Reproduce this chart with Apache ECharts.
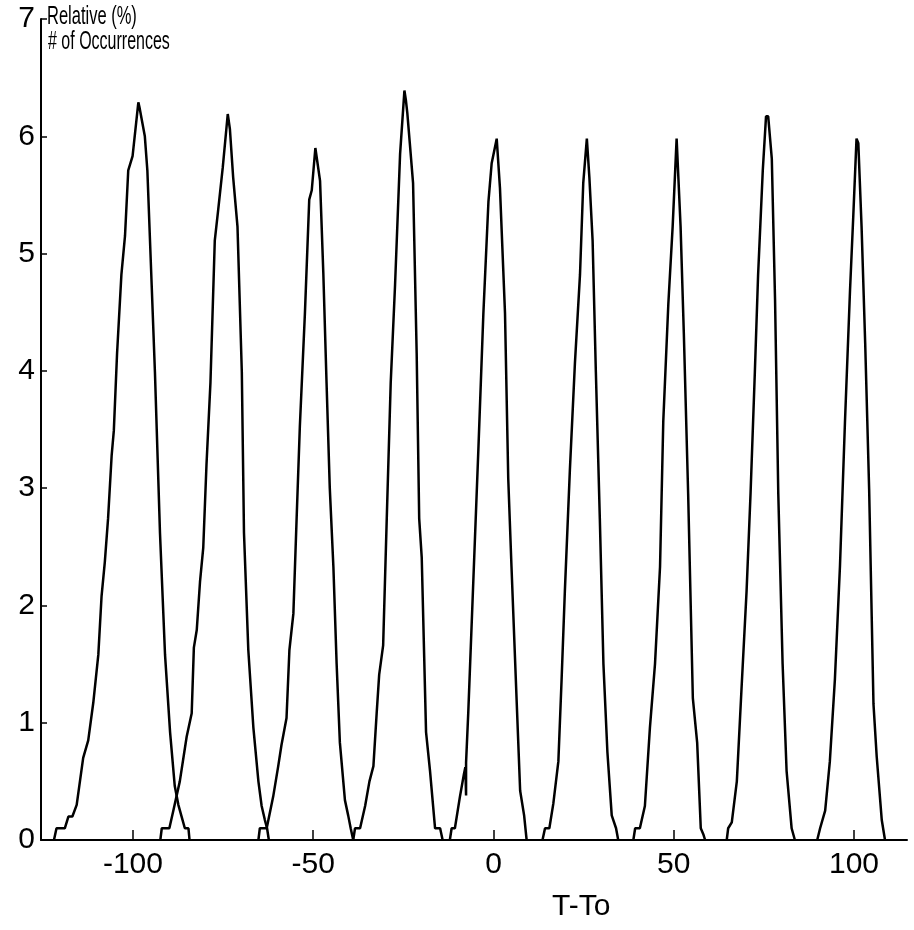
<!DOCTYPE html>
<html>
<head>
<meta charset="utf-8">
<script src="https://cdn.jsdelivr.net/npm/echarts@6/dist/echarts.min.js"></script>
<style>html,body{margin:0;padding:0;background:#fff}#c{width:914px;height:930px}</style>
</head>
<body>
<div id="c"></div>
<script>
var xTicks = [-100, -50, 0, 50, 100];
var yTicks = [0, 1, 2, 3, 4, 5, 6, 7];
var xLabel = 'T-To';
var yTitle1 = 'Relative (%)';
var yTitle2 = '# of Occurrences';

var peak1 = [[-121.9,0],[-121.2,0.1],[-118.9,0.1],[-117.9,0.2],[-116.8,0.2],[-115.6,0.3],[-113.8,0.7],[-112.4,0.85],[-111.0,1.17],[-109.6,1.58],[-108.7,2.08],[-107.8,2.37],[-106.9,2.74],[-105.9,3.28],[-105.3,3.49],[-104.4,4.15],[-103.2,4.82],[-102.2,5.15],[-101.3,5.71],[-100.1,5.83],[-98.5,6.29],[-98.2,6.25],[-96.7,6.0],[-96.0,5.71],[-94.8,4.73],[-93.9,3.99],[-92.5,2.62],[-91.1,1.58],[-89.7,0.92],[-88.4,0.46],[-87.4,0.3],[-86.5,0.2],[-85.6,0.1],[-84.6,0.1],[-84.3,0]];
var peak2 = [[-92.4,0],[-92.0,0.1],[-89.9,0.1],[-88.8,0.25],[-87.0,0.5],[-85.1,0.88],[-83.7,1.08],[-83.1,1.64],[-82.3,1.79],[-81.4,2.2],[-80.5,2.49],[-79.6,3.2],[-78.5,3.9],[-77.3,5.11],[-76.4,5.36],[-75.1,5.73],[-73.7,6.19],[-73.1,6.06],[-72.2,5.65],[-71.0,5.23],[-69.8,3.99],[-69.2,2.62],[-68.0,1.62],[-66.6,0.96],[-65.2,0.5],[-64.3,0.29],[-63.4,0.17],[-62.8,0.1],[-62.3,0]];
var peak3 = [[-65.2,0],[-64.8,0.1],[-62.9,0.1],[-61.1,0.37],[-59.7,0.63],[-58.8,0.81],[-57.4,1.04],[-56.6,1.62],[-55.5,1.93],[-54.6,2.74],[-53.7,3.53],[-52.3,4.49],[-51.1,5.46],[-50.4,5.54],[-49.4,5.9],[-48.1,5.62],[-47.2,4.84],[-46.3,3.9],[-45.4,3.0],[-44.4,2.33],[-43.5,1.5],[-42.6,0.83],[-41.2,0.34],[-40.3,0.21],[-39.6,0.1],[-38.9,0]];
var peak4 = [[-38.9,0],[-38.4,0.1],[-37.0,0.1],[-35.6,0.29],[-34.4,0.5],[-33.3,0.63],[-32.4,1.08],[-31.7,1.41],[-30.6,1.66],[-29.6,2.74],[-28.5,3.9],[-27.3,4.73],[-25.9,5.85],[-24.7,6.39],[-24.3,6.31],[-23.9,6.2],[-23.2,5.94],[-22.3,5.6],[-21.3,4.15],[-20.6,2.74],[-19.9,2.41],[-18.7,0.92],[-17.6,0.59],[-16.2,0.1],[-14.8,0.1],[-14.1,0]];
var peak5 = [[-12.1,0],[-11.6,0.1],[-10.7,0.1],[-9.3,0.37],[-8.2,0.56],[-7.8,0.62],[-7.6,0.38],[-7.6,0.66],[-7.0,1.08],[-5.6,2.2],[-4.2,3.32],[-2.8,4.49],[-1.4,5.44],[-0.5,5.77],[0.9,5.98],[1.8,5.56],[3.2,4.49],[4.1,3.08],[5.0,2.33],[6.4,1.21],[7.4,0.42],[8.5,0.21],[9.2,0]];
var peak6 = [[13.6,0],[14.3,0.1],[15.5,0.1],[16.6,0.31],[18.0,0.67],[18.9,1.37],[19.8,2.12],[21.2,3.16],[22.6,4.07],[24.0,4.82],[24.9,5.6],[25.9,5.98],[26.6,5.65],[27.5,5.11],[28.4,3.99],[29.5,2.74],[30.5,1.5],[31.6,0.75],[32.8,0.21],[34.0,0.1],[34.6,0]];
var peak7 = [[38.8,0],[39.3,0.1],[40.6,0.1],[42.0,0.29],[43.4,0.96],[44.8,1.5],[46.2,2.33],[47.1,3.57],[48.5,4.57],[49.7,5.23],[50.8,5.98],[51.3,5.98],[51.9,5.23],[52.8,4.32],[54.0,2.95],[55.3,1.21],[56.5,0.83],[57.5,0.1],[58.2,0.05],[58.7,0]];
var peak8 = [[64.7,0],[65.1,0.1],[66.1,0.15],[67.5,0.5],[68.8,1.29],[70.2,2.12],[71.3,2.95],[72.5,3.99],[73.4,4.82],[74.7,5.71],[75.6,6.17],[76.2,6.17],[77.2,5.81],[78.1,4.61],[79.0,2.95],[80.2,1.5],[81.3,0.59],[82.7,0.1],[83.6,0]];
var peak9 = [[89.8,0],[90.6,0.1],[92.0,0.25],[93.3,0.67],[94.7,1.37],[96.1,2.33],[97.5,3.57],[98.9,4.69],[99.8,5.32],[100.7,5.98],[101.2,5.94],[102.1,5.23],[103.1,4.24],[104.2,2.99],[105.4,1.16],[106.3,0.71],[107.7,0.17],[108.6,0]];

var peaks = [peak1, peak2, peak3, peak4, peak5, peak6, peak7, peak8, peak9];

var chart = echarts.init(document.getElementById('c'), null, {renderer: 'canvas'});
var font = '"Liberation Sans", Arial, Helvetica, sans-serif';

var option = {
  animation: false,
  backgroundColor: '#ffffff',
  grid: {left: 41, right: 7, top: 19, bottom: 90, containLabel: false},
  xAxis: {
    type: 'value',
    min: -125.5,
    max: 114.7,
    splitLine: {show: false},
    axisLine: {show: true, onZero: false, lineStyle: {color: '#000', width: 2}},
    axisTick: {show: true, inside: true, length: 10, customValues: xTicks, lineStyle: {color: '#000', width: 1.5}},
    axisLabel: {show: true, customValues: xTicks, margin: 10, color: '#000', fontSize: 30, fontFamily: font}
  },
  yAxis: {
    type: 'value',
    min: 0,
    max: 7,
    interval: 1,
    splitLine: {show: false},
    axisLine: {show: true, onZero: false, lineStyle: {color: '#000', width: 2}},
    axisTick: {show: true, inside: true, length: 6, lineStyle: {color: '#000', width: 1.5}},
    axisLabel: {show: true, margin: 6, color: '#000', fontSize: 30, fontFamily: font,
      formatter: function (v) { return yTicks.indexOf(v) >= 0 ? String(v) : ''; }}
  },
  graphic: [
    {type: 'text', left: 47, top: 5, scaleX: 0.66, style: {text: yTitle1, fill: '#000', font: '25px ' + font}},
    {type: 'text', left: 48, top: 30, scaleX: 0.64, style: {text: yTitle2, fill: '#000', font: '25px ' + font}},
    {type: 'text', left: 552, top: 892, style: {text: xLabel, fill: '#000', font: '30px ' + font}}
  ],
  series: peaks.map(function (p) {
    return {type: 'line', data: p, symbol: 'none', smooth: false, clip: true,
      lineStyle: {color: '#000', width: 2.5}};
  })
};
chart.setOption(option);
</script>
</body>
</html>
